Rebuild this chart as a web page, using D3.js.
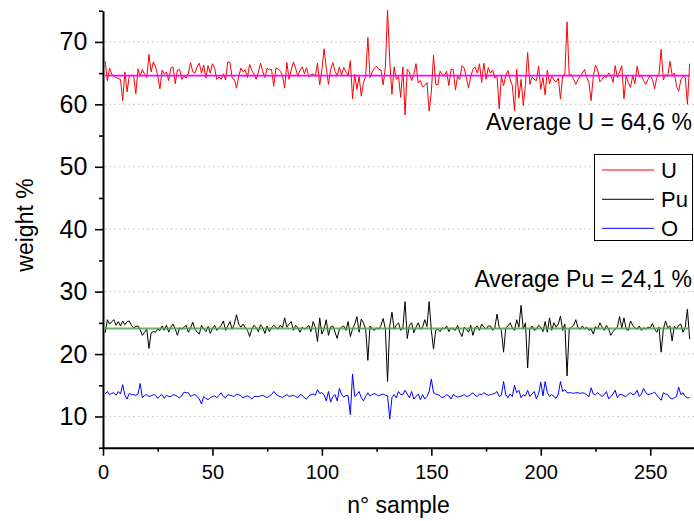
<!DOCTYPE html>
<html><head><meta charset="utf-8">
<script src="https://cdn.jsdelivr.net/npm/d3@7"></script>
<style>body{margin:0;background:#fff}svg{display:block;font-family:"Liberation Sans",Arial,sans-serif}</style>
</head><body><svg id="c" width="694" height="521"></svg>
<script>
// samples are numbered 1..268
const uValues = [
66.9,63.8,65.8,64.8,64.5,64.3,64.1,64.0,60.6,65.2, 62.0,64.5,64.7,64.6,61.7,65.7,64.5,65.6,64.8,64.3,
68.0,65.2,66.8,66.0,64.6,62.5,65.5,64.8,65.2,63.8, 65.8,66.0,63.3,65.5,65.6,64.0,64.5,64.2,65.0,66.7,
65.2,65.0,66.0,66.6,65.0,66.3,64.2,66.2,65.0,66.5, 65.8,64.0,64.4,64.0,64.9,63.9,66.8,66.7,64.2,64.0,
62.6,64.5,65.8,65.2,65.5,64.3,66.4,65.4,64.8,64.0, 65.2,66.6,65.2,64.3,65.8,65.5,65.6,62.9,65.8,65.7,
65.3,64.6,62.6,66.7,64.0,65.5,66.8,65.8,64.5,65.5, 66.0,64.9,65.9,64.4,64.7,64.9,64.5,66.6,63.1,65.5,
68.9,65.8,63.2,65.5,66.7,65.3,64.6,66.0,64.7,65.9, 65.2,64.6,67.0,60.9,64.8,62.4,64.5,61.3,63.5,64.5,
70.7,64.3,65.2,65.8,66.1,65.6,65.5,63.1,66.0,75.1, 67.0,61.6,66.0,64.0,64.5,61.1,66.0,58.3,65.6,65.2,
63.8,64.8,66.5,63.4,63.8,62.8,63.0,63.5,58.9,62.0, 67.9,63.2,63.1,65.3,64.8,64.6,65.3,63.0,65.6,65.6,
62.3,64.5,64.0,66.2,65.8,64.3,62.6,64.5,65.6,66.0, 65.0,66.5,63.5,66.6,64.0,65.9,65.0,65.5,64.2,64.6,
59.3,64.5,63.0,64.6,65.4,64.0,63.0,59.0,65.6,61.0, 64.0,59.8,63.2,68.3,63.2,64.4,64.0,63.8,66.1,62.4,
64.3,61.5,65.5,63.3,64.6,63.9,63.6,64.2,60.9,64.6, 64.8,73.2,64.5,64.8,64.0,63.2,64.0,64.5,65.0,65.6,
64.3,63.5,60.6,64.5,66.3,65.5,63.6,64.0,64.5,64.3, 65.0,64.7,63.5,66.2,64.3,65.2,66.2,60.9,64.5,63.5,
62.7,64.6,63.3,66.1,64.4,64.6,63.8,63.2,64.0,64.6, 64.0,62.5,64.3,64.8,68.8,63.9,64.8,64.5,66.9,64.7,
65.0,62.9,62.1,63.9,64.5,64.3,60.0,66.5
];
const puValues = [
23.4,25.5,24.8,25.2,25.5,24.6,25.2,24.5,25.3,24.7, 25.2,25.3,24.6,24.2,24.4,24.5,23.9,23.0,23.5,24.0,
20.9,23.4,23.6,23.5,24.0,23.8,24.5,23.8,24.6,23.5, 24.3,24.8,24.0,23.0,24.2,24.0,24.3,24.6,23.5,24.2,
25.1,24.0,23.5,23.2,24.6,24.0,23.6,24.4,23.3,24.1, 24.6,23.8,24.2,24.6,25.3,23.8,24.5,25.2,24.0,24.8,
26.3,24.8,24.3,24.8,24.2,23.8,22.8,24.0,24.6,24.2, 23.6,24.7,24.2,23.3,24.5,23.6,24.2,24.6,24.3,24.0,
24.6,24.2,25.8,24.3,24.8,25.2,23.8,24.6,24.2,23.5, 24.3,24.0,24.2,24.6,23.6,25.2,24.3,22.0,25.8,23.2,
24.0,25.5,23.0,24.3,24.5,23.5,22.5,24.0,24.3,24.5, 23.8,25.2,22.8,24.0,24.8,26.0,23.5,25.6,25.0,24.0,
19.0,24.5,24.0,23.8,24.2,24.0,24.6,25.7,24.0,15.6, 24.5,26.7,24.0,24.6,25.0,23.8,24.2,28.4,22.5,24.6,
25.0,23.4,24.3,25.0,24.0,24.3,25.5,24.4,28.4,23.8, 20.8,23.8,24.0,23.6,24.2,24.0,24.5,23.6,24.2,24.0,
23.8,24.6,23.5,22.8,24.3,24.0,23.5,24.6,23.0,24.2, 24.5,23.8,24.8,24.3,24.0,24.5,24.5,23.8,24.2,26.4,
24.3,23.8,20.3,24.2,24.5,25.0,24.2,23.8,25.5,24.3, 27.8,24.0,25.0,17.8,24.0,24.5,23.8,24.0,24.6,24.3,
23.6,25.2,23.5,25.8,23.8,25.0,24.3,24.8,26.1,23.8, 24.8,16.5,24.0,24.3,24.6,25.5,24.2,24.0,24.5,24.0,
24.3,23.8,24.0,23.2,24.4,24.0,25.0,24.3,23.8,24.6, 24.0,23.0,23.6,24.0,24.3,26.0,24.2,25.8,24.0,23.8,
25.3,24.6,24.2,24.0,24.5,23.8,24.2,24.0,24.3,24.2, 24.9,24.0,23.5,24.3,20.3,24.0,25.3,24.2,24.5,22.1,
24.5,24.0,24.6,24.8,23.5,24.3,27.2,22.4
];
const oValues = [
13.6,14.0,13.5,13.7,13.8,13.4,14.0,13.6,15.1,13.4, 12.8,13.7,13.5,13.5,13.4,13.6,15.3,13.0,13.4,13.5,
13.2,13.3,13.5,13.4,12.9,13.3,13.5,12.9,13.4,13.2, 13.2,13.5,13.4,13.2,13.0,13.3,13.9,13.8,13.8,13.2,
13.4,13.5,13.2,12.8,12.0,13.2,12.9,12.7,13.0,13.2, 13.3,13.0,13.4,13.8,13.2,13.0,13.5,13.4,13.3,13.2,
13.6,13.5,13.3,13.0,13.2,13.3,13.1,12.8,13.2,13.2, 13.2,13.3,13.4,13.2,13.0,13.3,13.5,14.0,13.6,13.3,
13.2,13.0,13.3,13.5,13.2,13.3,13.4,13.2,13.0,13.5, 13.4,13.0,12.8,13.3,13.5,13.6,13.4,14.3,13.7,13.8,
13.5,12.5,14.0,12.3,13.2,13.5,12.5,14.5,13.5,13.1, 13.4,13.3,10.3,16.8,13.2,13.5,14.0,13.0,12.5,13.2,
13.8,13.3,13.5,13.7,13.5,13.3,13.5,13.6,13.4,13.3, 9.6,13.0,13.5,13.0,14.0,13.5,13.5,14.2,13.6,13.0,
14.0,12.8,13.2,13.6,12.7,13.5,12.8,13.2,14.0,16.0, 13.8,13.6,13.5,13.3,13.0,13.2,13.5,13.3,12.8,13.5,
13.3,13.1,13.2,13.3,13.5,13.2,13.3,13.5,13.8,13.4, 13.2,13.6,13.5,13.8,13.6,13.4,13.5,13.6,13.7,14.0,
13.2,13.4,15.6,13.5,13.0,13.6,13.2,15.0,13.8,14.2, 13.0,13.5,13.3,14.2,13.2,13.6,14.0,12.8,13.6,15.5,
13.3,15.6,13.8,13.2,13.5,13.2,12.9,13.6,15.6,14.0, 14.3,13.8,13.8,13.8,13.7,13.8,13.8,13.7,13.8,13.7,
13.5,13.2,14.6,13.6,13.5,13.8,13.5,13.2,13.5,14.0, 12.8,13.2,13.6,14.2,13.0,13.5,13.5,13.3,13.2,13.6,
13.8,13.5,13.6,14.2,13.2,13.6,14.5,13.8,13.5,13.6, 13.7,13.9,13.4,13.0,12.6,13.8,13.6,13.5,13.0,12.8,
13.0,13.2,14.7,13.5,13.8,13.2,13.0,13.0
];
const seriesNames = ["U", "Pu", "O"];
const seriesColors = ["#ff0000", "#000000", "#0000ff"];
const averageU = 64.6;
const averagePu = 24.1;
const averageLabels = ["Average U = 64,6 %", "Average Pu = 24,1 %"];
const xMajorTicks = [0, 50, 100, 150, 200, 250];
const xMinorTicks = [25, 75, 125, 175, 225];
const yMajorTicks = [10, 20, 30, 40, 50, 60, 70];
const yMinorTicks = [5, 15, 25, 35, 45, 55, 65, 75];
const xTitle = "n° sample";
const yTitle = "weight %";

const svg = d3.select("#c");
const L = 103, R = 694, T = 10.7, B = 447.7;
const x = d3.scaleLinear().domain([0, 270]).range([L, R]);
const y = d3.scaleLinear().domain([5, 75]).range([B, T]);

// gridlines
svg.append("g").selectAll("line").data(yMajorTicks).join("line")
  .attr("x1", L + 2).attr("x2", R).attr("y1", d => y(d)).attr("y2", d => y(d))
  .attr("stroke", "#c8c8c8").attr("stroke-width", 1.2).attr("stroke-dasharray", "1.5,3.2");

// series
const seriesData = [uValues, puValues, oValues];
const line = d3.line().x((d, i) => x(i + 1)).y(d => y(d));
seriesData.forEach((vals, k) => {
  svg.append("path").datum(vals).attr("d", line)
    .attr("fill", "none").attr("stroke", seriesColors[k]).attr("stroke-width", 1)
    .attr("stroke-linejoin", "miter");
});

// averages
const n = uValues.length;
svg.append("line").attr("x1", x(1)).attr("x2", x(n)).attr("y1", y(averagePu)).attr("y2", y(averagePu))
  .attr("stroke", "#4ea64e").attr("stroke-width", 2).attr("opacity", 0.85);
svg.append("line").attr("x1", x(1)).attr("x2", x(n)).attr("y1", y(averageU)).attr("y2", y(averageU))
  .attr("stroke", "#ff00ff").attr("stroke-width", 1.6);

// axes
const fmt = d3.format("d");
const yAx = svg.append("g").attr("transform", `translate(${L},0)`)
  .call(d3.axisLeft(y).tickValues(yMajorTicks).tickSize(8).tickSizeOuter(0).tickPadding(7.7).tickFormat(fmt));
yAx.selectAll("text").attr("font-size", 25).attr("fill", "#000").attr("font-family", "Liberation Sans, Arial, sans-serif");
const yMin = svg.append("g").attr("transform", `translate(${L},0)`)
  .call(d3.axisLeft(y).tickValues(yMinorTicks).tickSize(4).tickFormat(""));
yMin.select(".domain").remove();

const xAx = svg.append("g").attr("transform", `translate(0,${B})`)
  .call(d3.axisBottom(x).tickValues(xMajorTicks).tickSize(8).tickSizeOuter(0).tickPadding(9).tickFormat(fmt));
xAx.selectAll("text").attr("font-size", 20).attr("fill", "#000").attr("font-family", "Liberation Sans, Arial, sans-serif");
const xMin = svg.append("g").attr("transform", `translate(0,${B})`)
  .call(d3.axisBottom(x).tickValues(xMinorTicks).tickSize(4).tickFormat(""));
xMin.select(".domain").remove();

svg.selectAll(".domain").attr("stroke", "#000").attr("stroke-width", 2);
svg.selectAll(".tick line").attr("stroke", "#000").attr("stroke-width", 1.6);

// axis titles
svg.append("text").attr("x", (L + R) / 2).attr("y", 513).attr("text-anchor", "middle")
  .attr("font-size", 23).attr("fill", "#000").text(xTitle);
svg.append("text").attr("transform", `translate(33,225) rotate(-90)`).attr("text-anchor", "middle")
  .attr("font-size", 23).attr("fill", "#000").text(yTitle);

// average annotations
svg.append("text").attr("x", 692).attr("y", 130).attr("text-anchor", "end")
  .attr("font-size", 23).attr("fill", "#000").text(averageLabels[0]);
svg.append("text").attr("x", 692).attr("y", 287).attr("text-anchor", "end")
  .attr("font-size", 23).attr("fill", "#000").text(averageLabels[1]);

// legend
const lg = svg.append("g");
lg.append("rect").attr("x", 594.5).attr("y", 154.5).attr("width", 98).attr("height", 86)
  .attr("fill", "#fff").attr("stroke", "#000").attr("stroke-width", 1);
const legendY = [170, 199.3, 228.3];
seriesNames.forEach((nm, k) => {
  lg.append("line").attr("x1", 602).attr("x2", 654).attr("y1", legendY[k]).attr("y2", legendY[k])
    .attr("stroke", seriesColors[k]).attr("stroke-width", 1);
  lg.append("text").attr("x", 661).attr("y", legendY[k] + 8).attr("font-size", 22).attr("fill", "#000").text(nm);
});
</script></body></html>
